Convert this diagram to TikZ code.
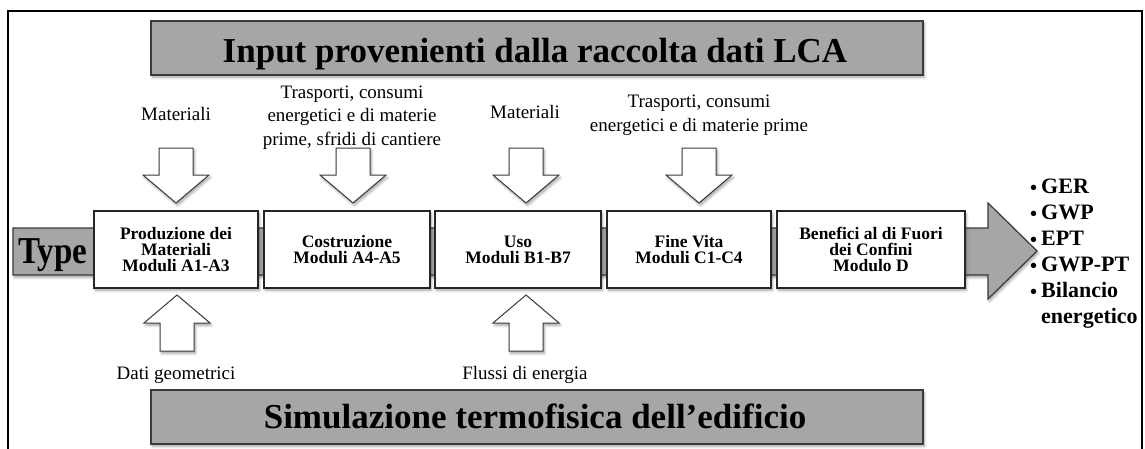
\documentclass[tikz,border=0pt]{standalone}
\usepackage{graphicx}
\usepackage{fontspec}
\setmainfont{Liberation Serif}
\usetikzlibrary{shadows.blur}
\definecolor{bannergray}{HTML}{A6A6A6}
\definecolor{edgegray}{HTML}{3A3A3A}
\newcommand\TightLines{\lineskiplimit=-20pt\relax}
\newcommand\Bul{\raisebox{-1.5pt}{\fontsize{20}{20}\selectfont\textbullet}}
\tikzset{
  shd/.style={blur shadow={shadow xshift=1.5pt, shadow yshift=-2.5pt, shadow blur radius=2.5pt, shadow opacity=35, shadow blur steps=6}},
  banner/.style={draw=edgegray, line width=1.3pt, fill=bannergray, shd, inner sep=0pt},
  stage/.style={draw=black!85, line width=1.1pt, fill=white, shd, minimum height=77pt, inner sep=0pt, align=center, font=\fontsize{17.5}{16}\selectfont\bfseries\TightLines},
  blk/.style={draw=edgegray, line width=1pt, fill=white, line join=miter, shd},
  lbl/.style={align=center, font=\fontsize{19}{23.5}\selectfont\TightLines, inner sep=0pt, anchor=base},
  ttl/.style={font=\fontsize{35}{40}\selectfont\bfseries, inner sep=0pt, anchor=base},
}
\newcommand\BlkDown[1]{\draw[blk] (#1-17,148) -- (#1+17,148) -- (#1+17,175) -- (#1+33,175) -- (#1,203) -- (#1-33,175) -- (#1-17,175) -- cycle;}
\newcommand\BlkUp[1]{\draw[blk] (#1-17,351) -- (#1+17,351) -- (#1+17,323) -- (#1+33,323) -- (#1,295) -- (#1-33,323) -- (#1-17,323) -- cycle;}
\begin{document}
\begin{tikzpicture}[x=1pt,y=-1pt]
\useasboundingbox (0,0) rectangle (1145,448);
% outer frame
\draw[line width=2.5pt] (8,11) rectangle (1142,453);
% banners
\node[banner, minimum width=772pt, minimum height=54pt] (inbanner) at (537,48) {};
\node[ttl] (intitle) at (535,62) {Input provenienti dalla raccolta dati LCA};
\node[banner, minimum width=772pt, minimum height=54pt] (simbanner) at (537,417) {};
\node[ttl] (simtitle) at (535,428) {Simulazione termofisica dell’edificio};
% main big arrow
\draw[fill=bannergray, draw=edgegray, line width=1.2pt, line join=miter, shd]
  (13,228) -- (988,228) -- (988,203) -- (1037,251) -- (988,299) -- (988,275) -- (13,275) -- cycle;
\node[font=\fontsize{33}{40}\selectfont\bfseries, anchor=base west, inner sep=0pt] (type) at (18,263) {\scalebox{1}[1.15]{Type}};
% stage boxes
\node[stage, minimum width=164pt] (b1) at (176,249.5) {Produzione dei\\Materiali\\Moduli A1-A3};
\node[stage, minimum width=166pt] (b2) at (347,249.5) {Costruzione\\Moduli A4-A5};
\node[stage, minimum width=166pt] (b3) at (518,249.5) {Uso\\Moduli B1-B7};
\node[stage, minimum width=164pt] (b4) at (689,249.5) {Fine Vita\\Moduli C1-C4};
\node[stage, minimum width=188pt] (b5) at (871,249.5) {Benefici al di Fuori\\dei Confini\\Modulo D};
% block arrows
\BlkDown{176}
\BlkDown{353}
\BlkDown{526}
\BlkDown{699}
\BlkUp{177}
\BlkUp{526}
% labels (base anchor = last line's baseline)
\node[lbl] (mat1) at (176,120) {Materiali};
\node[lbl] (tra1) at (352,145) {Trasporti, consumi\\energetici e di materie\\prime, sfridi di cantiere};
\node[lbl] (mat2) at (525,118) {Materiali};
\node[lbl] (tra2) at (699,131) {Trasporti, consumi\\energetici e di materie prime};
\node[lbl] (geo) at (176,379) {Dati geometrici};
\node[lbl] (flu) at (525,379) {Flussi di energia};
% results
\node[anchor=base west, inner sep=0pt, font=\fontsize{22}{26}\selectfont\bfseries] (res) at (1030,193)
  {\begin{tabular}[t]{@{}l@{\hspace{4pt}}l@{}}
   \Bul & GER\\
   \Bul & GWP\\
   \Bul & EPT\\
   \Bul & GWP-PT\\
   \Bul & Bilancio\\
        & energetico
   \end{tabular}};
\end{tikzpicture}
\end{document}
